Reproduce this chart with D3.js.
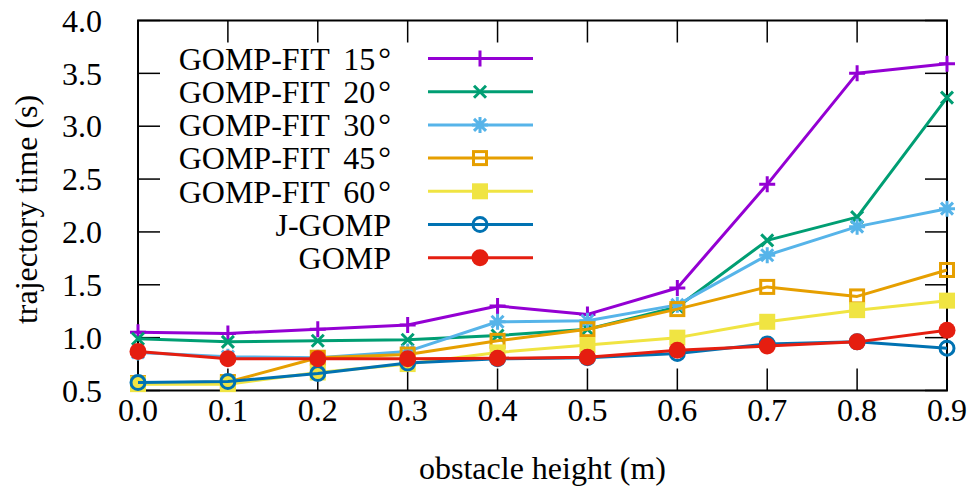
<!DOCTYPE html>
<html>
<head>
<meta charset="utf-8">
<script src="https://cdn.jsdelivr.net/npm/d3@7"></script>
<style>
  html, body { margin: 0; padding: 0; background: #fff; }
  svg { display: block; font-family: "Liberation Serif", "Times New Roman", serif; }
</style>
</head>
<body>
<svg id="chart" width="969" height="489"></svg>
<script>
// obstacle heights (m)
const heights = [0.0, 0.1, 0.2, 0.3, 0.4, 0.5, 0.6, 0.7, 0.8, 0.9];

// trajectory times (s)
const fit15 = [1.05, 1.04, 1.08, 1.12, 1.30, 1.22, 1.47, 2.45, 3.50, 3.59];
const fit20 = [0.99, 0.96, 0.97, 0.98, 1.02, 1.08, 1.29, 1.92, 2.14, 3.27];
const fit30 = [0.86, 0.82, 0.81, 0.87, 1.15, 1.16, 1.31, 1.78, 2.05, 2.22];
const fit45 = [0.57, 0.58, 0.81, 0.84, 0.97, 1.08, 1.27, 1.48, 1.39, 1.64];
const fit60 = [0.56, 0.56, 0.67, 0.75, 0.86, 0.93, 1.00, 1.15, 1.26, 1.35];
const jgomp = [0.575, 0.585, 0.66, 0.76, 0.80, 0.81, 0.85, 0.94, 0.96, 0.90];
const gomp  = [0.87, 0.80, 0.80, 0.80, 0.805, 0.815, 0.88, 0.92, 0.96, 1.07];

const xTicks = [0.0, 0.1, 0.2, 0.3, 0.4, 0.5, 0.6, 0.7, 0.8, 0.9];
const yTicks = [0.5, 1.0, 1.5, 2.0, 2.5, 3.0, 3.5, 4.0];

const series = [
  { name: 'GOMP-FIT', angle: '15', values: fit15, color: '#9400d3', marker: 'plus' },
  { name: 'GOMP-FIT', angle: '20', values: fit20, color: '#009e73', marker: 'cross' },
  { name: 'GOMP-FIT', angle: '30', values: fit30, color: '#56b4e9', marker: 'star' },
  { name: 'GOMP-FIT', angle: '45', values: fit45, color: '#e69f00', marker: 'square' },
  { name: 'GOMP-FIT', angle: '60', values: fit60, color: '#f0e442', marker: 'squareFilled' },
  { name: 'J-GOMP',   angle: null, values: jgomp, color: '#0072b2', marker: 'circle' },
  { name: 'GOMP',     angle: null, values: gomp,  color: '#e51e10', marker: 'circleFilled' }
];

const svg = d3.select('#chart');
const plot = { left: 138, right: 947, top: 20.5, bottom: 390.5 };

const x = d3.scaleLinear().domain([0, 0.9]).range([plot.left, plot.right]);
const y = d3.scaleLinear().domain([0.5, 4.0]).range([plot.bottom, plot.top]);

const tickLen = 22;
const fontSize = 32;

// ticks (inward, mirrored on all sides)
const ticks = svg.append('g').attr('stroke', '#000').attr('stroke-width', 1.5);
xTicks.forEach(t => {
  ticks.append('line').attr('x1', x(t)).attr('x2', x(t))
    .attr('y1', plot.bottom).attr('y2', plot.bottom - tickLen);
  ticks.append('line').attr('x1', x(t)).attr('x2', x(t))
    .attr('y1', plot.top).attr('y2', plot.top + tickLen);
});
yTicks.forEach(t => {
  ticks.append('line').attr('x1', plot.left).attr('x2', plot.left + tickLen)
    .attr('y1', y(t)).attr('y2', y(t));
  ticks.append('line').attr('x1', plot.right).attr('x2', plot.right - tickLen)
    .attr('y1', y(t)).attr('y2', y(t));
});

// tick labels
svg.append('g').selectAll('text').data(xTicks).join('text')
  .attr('x', d => x(d)).attr('y', 421)
  .attr('text-anchor', 'middle')
  .attr('font-size', fontSize)
  .text(d => d.toFixed(1));

svg.append('g').selectAll('text').data(yTicks).join('text')
  .attr('x', 102).attr('y', d => y(d))
  .attr('dy', '0.35em')
  .attr('text-anchor', 'end')
  .attr('font-size', fontSize)
  .text(d => d.toFixed(1));

// axis titles
svg.append('text')
  .attr('x', (plot.left + plot.right) / 2).attr('y', 479)
  .attr('text-anchor', 'middle').attr('font-size', fontSize)
  .text('obstacle height (m)');

svg.append('text')
  .attr('transform', `translate(37,${(plot.top + plot.bottom) / 2 + 4}) rotate(-90)`)
  .attr('text-anchor', 'middle').attr('font-size', fontSize)
  .text('trajectory time (s)');

// frame
svg.append('rect')
  .attr('x', plot.left).attr('y', plot.top)
  .attr('width', plot.right - plot.left).attr('height', plot.bottom - plot.top)
  .attr('fill', 'none').attr('stroke', '#000').attr('stroke-width', 2);

// marker drawing
function drawMarker(g, type, color, cx, cy) {
  const s = 8;
  if (type === 'plus') {
    g.append('path').attr('d', `M${cx - s},${cy}H${cx + s}M${cx},${cy - s}V${cy + s}`)
      .attr('stroke', color).attr('stroke-width', 3).attr('fill', 'none');
  } else if (type === 'cross') {
    const c = 6;
    g.append('path').attr('d', `M${cx - c},${cy - c}L${cx + c},${cy + c}M${cx - c},${cy + c}L${cx + c},${cy - c}`)
      .attr('stroke', color).attr('stroke-width', 3).attr('fill', 'none');
  } else if (type === 'star') {
    const c = 6;
    g.append('path').attr('d',
      `M${cx - s},${cy}H${cx + s}M${cx},${cy - s}V${cy + s}` +
      `M${cx - c},${cy - c}L${cx + c},${cy + c}M${cx - c},${cy + c}L${cx + c},${cy - c}`)
      .attr('stroke', color).attr('stroke-width', 3).attr('fill', 'none');
  } else if (type === 'square') {
    g.append('rect').attr('x', cx - 6.5).attr('y', cy - 6.5).attr('width', 13).attr('height', 13)
      .attr('stroke', color).attr('stroke-width', 3).attr('fill', 'none');
  } else if (type === 'squareFilled') {
    g.append('rect').attr('x', cx - 8).attr('y', cy - 8).attr('width', 16).attr('height', 16)
      .attr('fill', color);
  } else if (type === 'circle') {
    g.append('circle').attr('cx', cx).attr('cy', cy).attr('r', 7)
      .attr('stroke', color).attr('stroke-width', 3).attr('fill', 'none');
  } else if (type === 'circleFilled') {
    g.append('circle').attr('cx', cx).attr('cy', cy).attr('r', 8.5)
      .attr('fill', color);
  }
}

const line = d3.line().x((d, i) => x(heights[i])).y(d => y(d));

// series, drawn in order so GOMP ends on top
series.forEach(s => {
  const g = svg.append('g');
  g.append('path').datum(s.values)
    .attr('d', line)
    .attr('fill', 'none')
    .attr('stroke', s.color)
    .attr('stroke-width', 3)
    .attr('stroke-linejoin', 'round');
  s.values.forEach((v, i) => drawMarker(g, s.marker, s.color, x(heights[i]), y(v)));
});

// legend
const legend = svg.append('g');
series.forEach((s, i) => {
  const ly = 58.5 + i * 33.2;
  const t = legend.append('text')
    .attr('x', 391).attr('y', ly).attr('dy', '0.35em')
    .attr('text-anchor', 'end').attr('font-size', fontSize);
  if (s.angle) {
    t.attr('word-spacing', 6);
    t.append('tspan').text(`${s.name} ${s.angle}`);
    t.append('tspan').attr('dx', 3).text('°');
  } else {
    t.text(s.name);
  }
  legend.append('line')
    .attr('x1', 428).attr('x2', 533).attr('y1', ly).attr('y2', ly)
    .attr('stroke', s.color).attr('stroke-width', 3);
  drawMarker(legend, s.marker, s.color, 480, ly);
});
</script>
</body>
</html>
